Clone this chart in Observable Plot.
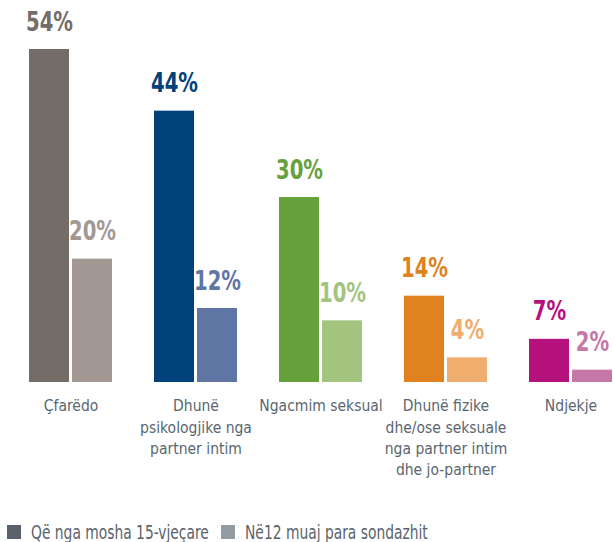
<!DOCTYPE html>
<html>
<head>
<meta charset="utf-8">
<script src="https://cdn.jsdelivr.net/npm/d3@7"></script>
<script src="https://cdn.jsdelivr.net/npm/@observablehq/plot@0.6"></script>
<style>
  body { margin: 0; background: #fff; font-family: "DejaVu Sans Condensed", "Liberation Sans Narrow", Roboto, sans-serif; }
  #legend { display: flex; align-items: center; margin-left: 7px; margin-top: 31px; color: #5a636b; font-size: 19px; white-space: nowrap; }
  #legend .sw { width: 14px; height: 14px; display: inline-block; margin-right: 10px; flex: none; }
  #legend .item { display: flex; align-items: center; margin-right: 12px; }
  #legend .lab { display: inline-block; transform: scaleX(0.81); transform-origin: left center; }
</style>
</head>
<body>
<div id="chart"></div>
<div id="legend"></div>
<script>
const categories = [
  "Çfarëdo",
  "Dhunë\npsikologjike nga\npartner intim",
  "Ngacmim seksual",
  "Dhunë fizike\ndhe/ose seksuale\nnga partner intim\ndhe jo-partner",
  "Ndjekje"
];
const series = ["Që nga mosha 15-vjeçare", "Në12 muaj para sondazhit"];
const since15 = [54, 44, 30, 14, 7];
const last12 = [20, 12, 10, 4, 2];
const darkColors = ["#736c67", "#00427a", "#66a13c", "#e0821e", "#b5117d"];
const lightColors = ["#a39793", "#5f76a5", "#a2c47f", "#efae6e", "#c578a8"];
const legendColors = ["#5a636b", "#939ca3"];

const data = [];
categories.forEach((c, i) => {
  data.push({cat: c, s: series[0], v: since15[i], color: darkColors[i]});
  data.push({cat: c, s: series[1], v: last12[i], color: lightColors[i]});
});

const font = "DejaVu Sans Condensed, Liberation Sans Narrow, Roboto, sans-serif";
const chart = Plot.plot({
  width: 614,
  height: 490,
  marginTop: 49,
  marginBottom: 108,
  marginLeft: 27,
  marginRight: 0,
  style: {fontFamily: font, background: "white"},
  fx: {domain: categories, paddingInner: 0.323, paddingOuter: 0, label: null},
  x: {domain: series, paddingInner: 0.068, paddingOuter: 0, axis: null},
  y: {domain: [0, 54], axis: null},
  color: {type: "identity"},
  marks: [
    Plot.barY(data, {fx: "cat", x: "s", y: "v", fill: "color"}),
    Plot.text(data, {fx: "cat", x: "s", y: "v", text: d => d.v + "%", fill: "color",
      fontSize: 26, fontWeight: "bold", lineAnchor: "bottom", dy: -19, fontFamily: font, className: "vlab"}),
    Plot.axisFx({anchor: "bottom", tickSize: 0, tickPadding: 14, fontSize: 15.5, lineHeight: 1.36,
      fill: "#5a6670", label: null, fontFamily: font})
  ]
});
document.getElementById("chart").append(chart);
// condense the bold value labels horizontally (the reference uses a condensed face)
chart.querySelectorAll('g.vlab text, g[aria-label="text"] text').forEach(t => {
  const tr = t.getAttribute("transform") || "";
  if (!/scale/.test(tr)) t.setAttribute("transform", (tr + " scale(0.84,1)").trim());
});

const legend = document.getElementById("legend");
series.forEach((s, i) => {
  const item = document.createElement("div");
  item.className = "item";
  const sw = document.createElement("span");
  sw.className = "sw";
  sw.style.background = legendColors[i];
  const lab = document.createElement("span");
  lab.className = "lab";
  lab.textContent = s;
  item.append(sw, lab);
  legend.append(item);
  const w = lab.getBoundingClientRect().width / 0.81;
  lab.style.marginRight = (-(w * 0.19)) + "px";
});
</script>
</body>
</html>
